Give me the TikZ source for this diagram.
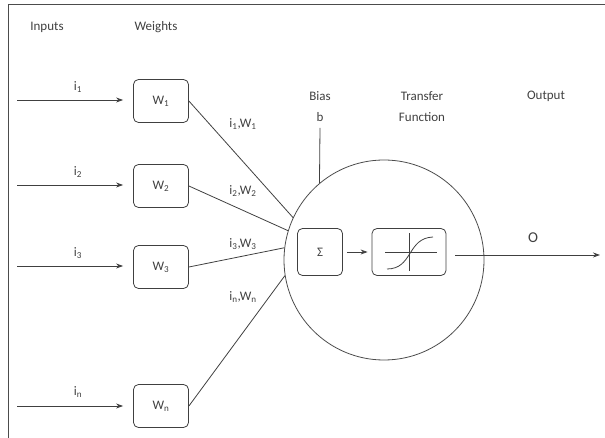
\documentclass[tikz,border=0pt]{standalone}
\usepackage{fontspec}
\setmainfont{Carlito}
\usetikzlibrary{arrows.meta}
\tikzset{
  ink/.style={draw=black!75, line width=0.8pt},
  wbox/.style={ink, rounded corners=5pt, minimum width=55pt, minimum height=43pt, inner sep=0pt},
  lbl/.style={text=black!75, font=\fontsize{13}{15}\selectfont, inner sep=0pt},
  tip/.style={-{Stealth[length=7pt,width=5pt]}},
}
\begin{document}
\begin{tikzpicture}[x=1pt,y=-1pt]
  \useasboundingbox (0,0) rectangle (605,438);
  % frame: top and left rules only
  \draw[draw=black!70, line width=1pt] (605,5) -- (8,5) -- (8,438);

  % headings
  \node[lbl] (hin) at (47,27) {Inputs};
  \node[lbl] (hw) at (156,27) {Weights};
  \node[lbl] (hbias) at (320,96) {Bias};
  \node[lbl] (hb) at (320,117) {b};
  \node[lbl] (htf1) at (422,96) {Transfer};
  \node[lbl] (htf2) at (422,117) {Function};
  \node[lbl] (hout) at (546,96) {Output};

  % weight boxes
  \node[wbox, lbl, draw=black!75] (w1) at (161,101) {W\textsubscript{1}};
  \node[wbox, lbl, draw=black!75] (w2) at (161,186) {W\textsubscript{2}};
  \node[wbox, lbl, draw=black!75] (w3) at (161,267) {W\textsubscript{3}};
  \node[wbox, lbl, draw=black!75] (wn) at (161,406) {W\textsubscript{n}};

  % input arrows
  \coordinate (s1) at (17,100);
  \coordinate (s2) at (17,185);
  \coordinate (s3) at (17,266);
  \coordinate (sn) at (17,406);
  \draw[ink, tip, shorten >=10pt] (s1) -- (s1 -| w1.west);
  \draw[ink, tip, shorten >=10pt] (s2) -- (s2 -| w2.west);
  \draw[ink, tip, shorten >=10pt] (s3) -- (s3 -| w3.west);
  \draw[ink, tip, shorten >=10pt] (sn) -- (sn -| wn.west);
  \node[lbl] (i1) at (78,87) {i\textsubscript{1}};
  \node[lbl] (i2) at (78,172) {i\textsubscript{2}};
  \node[lbl] (i3) at (78,253) {i\textsubscript{3}};
  \node[lbl] (in) at (78,392) {i\textsubscript{n}};

  % neuron body
  \node[circle, draw=black!70, line width=0.8pt, minimum size=200pt, inner sep=0pt] (neuron) at (384,260) {};

  % weighted inputs into the neuron
  \draw[ink] (w1.east) -- (neuron.155);
  \draw[ink] (w2.east) -- (neuron.163);
  \draw[ink] (w3.east) -- (neuron.173);
  \draw[ink] (wn.east) -- (neuron.189);
  \node[lbl] (p1) at (243,124) {i\textsubscript{1},W\textsubscript{1}};
  \node[lbl] (p2) at (243,191) {i\textsubscript{2},W\textsubscript{2}};
  \node[lbl] (p3) at (243,244) {i\textsubscript{3},W\textsubscript{3}};
  \node[lbl] (pn) at (243,297) {i\textsubscript{n},W\textsubscript{n}};

  % bias
  \coordinate (bias) at (320,128);
  \draw[ink] (bias) -- (neuron.130);

  % summation and transfer function
  \node[wbox, lbl, minimum width=45pt, minimum height=47pt] (sigma) at (320,252) {Σ};
  \node[wbox, minimum width=74pt, minimum height=47pt] (tf) at (409,252) {};
  \draw[ink, tip, shorten <=4pt, shorten >=4pt] (sigma.east) -- (tf.west);
  \draw[ink] ([xshift=-24pt]tf.center) -- ([xshift=28pt]tf.center);
  \draw[ink] ([yshift=-19pt]tf.center) -- ([yshift=19pt]tf.center);
  % sigmoid: rises from lower left to upper right
  \draw[ink] ([xshift=-22pt,yshift=-17pt]tf.center)
    .. controls ([xshift=4pt,yshift=-17pt]tf.center) and ([xshift=-2pt,yshift=14pt]tf.center)
    .. ([xshift=24pt,yshift=15pt]tf.center);

  % output
  \coordinate (o0) at (455,255);
  \coordinate (o1) at (600,255);
  \draw[ink, tip] (o0) -- (o1);
  \node[lbl, font=\fontsize{15}{17}\selectfont] (olbl) at (533,238) {O};
\end{tikzpicture}
\end{document}
